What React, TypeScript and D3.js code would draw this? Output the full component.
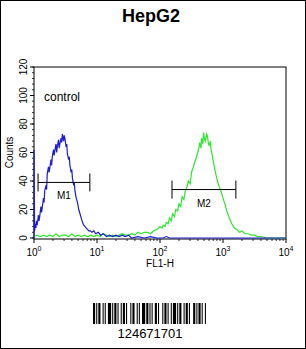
import React from 'react';
import * as d3 from 'd3';

// histogram points, x as log10(FL1-H), y as counts
const blueLog = [0, 0, 0.01, 0.02, 0.03, 0.04, 0.05, 0.07, 0.08, 0.09, 0.11, 0.12, 0.13, 0.15, 0.16, 0.17, 0.19, 0.2, 0.21, 0.23, 0.24, 0.25, 0.27, 0.28, 0.29, 0.31, 0.32, 0.33, 0.35, 0.36, 0.37, 0.39, 0.4, 0.41, 0.43, 0.44, 0.45, 0.47, 0.48, 0.49, 0.51, 0.52, 0.53, 0.55, 0.56, 0.57, 0.59, 0.6, 0.61, 0.63, 0.64, 0.65, 0.67, 0.69, 0.71, 0.73, 0.75, 0.77, 0.79, 0.81, 0.83, 0.85, 0.87, 0.89, 0.92, 0.95, 0.98, 1.02, 1.06, 1.1, 1.15, 1.2, 1.25, 1.3, 1.35, 1.4, 1.45, 1.5, 1.55, 1.65, 1.75, 1.85, 1.95, 2.05, 2.1, 2.15, 2.3, 2.6, 3.0, 3.5, 4.0];
const blueCounts = [0, 62, 5, 10, 7, 12, 9, 16, 12, 15, 22, 18, 21, 28, 25, 33, 37, 34, 45, 50, 46, 49, 55, 51, 57, 62, 58, 61, 66, 60, 64, 69, 63, 66, 70, 67, 73, 68, 72, 70, 64, 66, 59, 55, 57, 51, 46, 48, 42, 37, 39, 33, 28, 25, 20, 17, 14, 11, 9, 8, 7, 6, 5, 5, 4, 5, 3, 4, 2, 3, 1, 2, 1, 2, 1, 2, 1, 2, 0, 1, 0, 1, 0, 0, 1, 0, 0, 0, 0, 0, 0];

const greenLog = [0, 0.05, 0.1, 0.15, 0.2, 0.25, 0.3, 0.35, 0.4, 0.45, 0.5, 0.55, 0.6, 0.65, 0.7, 0.75, 0.8, 0.85, 0.9, 0.95, 1.0, 1.05, 1.1, 1.15, 1.2, 1.25, 1.3, 1.35, 1.4, 1.45, 1.5, 1.55, 1.6, 1.65, 1.7, 1.75, 1.8, 1.85, 1.9, 1.95, 2.0, 2.03, 2.05, 2.08, 2.1, 2.13, 2.15, 2.18, 2.2, 2.23, 2.25, 2.28, 2.3, 2.33, 2.35, 2.38, 2.4, 2.43, 2.45, 2.48, 2.5, 2.53, 2.55, 2.58, 2.6, 2.62, 2.63, 2.65, 2.66, 2.68, 2.69, 2.71, 2.72, 2.74, 2.75, 2.77, 2.78, 2.8, 2.81, 2.83, 2.84, 2.86, 2.87, 2.9, 2.93, 2.96, 3.0, 3.03, 3.06, 3.1, 3.14, 3.18, 3.22, 3.26, 3.3, 3.35, 3.4, 3.45, 3.5, 3.55, 3.6, 3.7, 4.0];
const greenCounts = [1, 2, 1, 2, 1, 2, 1, 3, 1, 2, 2, 1, 3, 1, 2, 1, 2, 1, 2, 1, 2, 1, 3, 2, 1, 2, 1, 2, 3, 2, 2, 3, 2, 4, 3, 4, 4, 3, 5, 6, 8, 7, 9, 8, 11, 10, 14, 12, 17, 15, 20, 19, 24, 22, 29, 27, 33, 36, 40, 38, 46, 50, 53, 57, 60, 64, 67, 63, 70, 66, 74, 69, 68, 73, 72, 66, 65, 68, 62, 58, 55, 51, 48, 42, 37, 34, 28, 24, 19, 14, 10, 7, 6, 4, 5, 3, 3, 2, 2, 1, 1, 0, 0];

// marker gates: [name, from, to, level]
const markers: [string, number, number, number][] = [
  ['M1', 1.16, 7.7, 39],
  ['M2', 155, 1600, 34],
];

const yTicks = [0, 20, 40, 60, 80, 100, 120];
const xDecades = [0, 1, 2, 3, 4];

// barcode bar widths, alternating bar/space
const barWidths = [2, 1, 1, 1, 2, 2, 1, 1, 1, 2, 3, 1, 1, 1, 2, 1, 1, 2, 1, 1, 2, 1, 1, 3, 1, 1, 2, 2, 1, 1, 1, 2, 3, 1, 2, 1, 1, 1, 1, 2, 2, 1, 1, 3, 1, 1, 2, 1, 1, 2, 1, 1, 3, 1, 1, 1, 2, 2, 1, 1, 2, 1, 1, 3, 2, 1, 1, 1, 2, 1, 1, 2, 1, 1];

const App = () => {
  const W = 306, H = 349;
  const left = 34, right = 286, top = 67, bottom = 238;

  const x = d3.scaleLog().domain([1, 10000]).range([left, right]);
  const y = d3.scaleLinear().domain([0, 120]).range([bottom, top]);

  const line = d3.line<[number, number]>()
    .x(d => x(Math.pow(10, d[0])))
    .y(d => y(d[1]));

  const blue: [number, number][] = blueLog.map((v, i) => [v, blueCounts[i]]);
  const green: [number, number][] = greenLog.map((v, i) => [v, greenCounts[i]]);

  const yMinor = d3.range(0, 121, 4);
  const xMinor: number[] = [];
  for (let d = 0; d < 4; d++) for (let k = 2; k <= 9; k++) xMinor.push(k * Math.pow(10, d));

  // barcode layout
  const barTotal = d3.sum(barWidths);
  const bx = d3.scaleLinear().domain([0, barTotal]).range([93, 207]);
  let acc = 0;
  const bars: { x0: number; w: number }[] = [];
  barWidths.forEach((w, i) => {
    if (i % 2 === 0) bars.push({ x0: acc, w });
    acc += w;
  });

  const font = 'Arial, "Liberation Sans", sans-serif';

  return (
    <svg width={W} height={H} style={{ position: 'absolute', left: 0, top: 0, background: '#fff' }} fontFamily={font}>
      <rect x={0.5} y={0.5} width={W - 1} height={H - 1} fill="#fff" stroke="#000" strokeWidth={1} />
      <text x={151} y={22} textAnchor="middle" fontSize={18} fontWeight="bold">HepG2</text>

      {/* plot frame */}
      <rect x={left} y={top} width={right - left} height={bottom - top + 1} fill="none" stroke="#000" strokeWidth={1} />

      {/* y axis */}
      {yMinor.map(v => (
        <line key={'ym' + v} x1={left - 2} x2={left} y1={y(v)} y2={y(v)} stroke="#000" strokeWidth={0.8} />
      ))}
      {yTicks.map(v => (
        <g key={'yt' + v}>
          <line x1={left - 4} x2={left} y1={y(v)} y2={y(v)} stroke="#000" />
          <text transform={`translate(${left - 7},${y(v)}) rotate(-90)`} textAnchor="middle" fontSize={10}>{v}</text>
        </g>
      ))}
      <text transform={`translate(13,${y(60)}) rotate(-90)`} textAnchor="middle" fontSize={10}>Counts</text>

      {/* x axis */}
      {xMinor.map(v => (
        <line key={'xm' + v} x1={x(v)} x2={x(v)} y1={bottom + 1} y2={bottom + 3} stroke="#000" strokeWidth={0.8} />
      ))}
      {xDecades.map(d => (
        <g key={'xt' + d}>
          <line x1={x(Math.pow(10, d))} x2={x(Math.pow(10, d))} y1={bottom + 1} y2={bottom + 5} stroke="#000" />
          <text x={x(Math.pow(10, d))} y={bottom + 18} textAnchor="middle" fontSize={10}>
            10<tspan dy={-5} fontSize={7}>{d}</tspan>
          </text>
        </g>
      ))}
      <text x={160} y={bottom + 29} textAnchor="middle" fontSize={10}>FL1-H</text>

      <text x={44} y={101} fontSize={12}>control</text>

      {/* histograms */}
      <path d={line(green) || ''} fill="none" stroke="#2ee82e" strokeWidth={1.2} />
      <path d={line(blue) || ''} fill="none" stroke="#1c1cd8" strokeWidth={1.2} />

      {/* markers */}
      {markers.map(([name, a, b, lvl]) => (
        <g key={name}>
          <line x1={x(a)} x2={x(b)} y1={y(lvl)} y2={y(lvl)} stroke="#000" />
          <line x1={x(a)} x2={x(a)} y1={y(lvl) - 9} y2={y(lvl) + 9} stroke="#000" />
          <line x1={x(b)} x2={x(b)} y1={y(lvl) - 9} y2={y(lvl) + 9} stroke="#000" />
          <text x={(x(a) + x(b)) / 2} y={y(lvl) + 17} textAnchor="middle" fontSize={10}>{name}</text>
        </g>
      ))}

      {/* barcode */}
      {bars.map((b, i) => (
        <rect key={'b' + i} x={bx(b.x0)} y={303} width={bx(b.x0 + b.w) - bx(b.x0)} height={21} fill="#000" />
      ))}
      <text x={150} y={338} textAnchor="middle" fontSize={13}>124671701</text>
    </svg>
  );
};

export default App;
